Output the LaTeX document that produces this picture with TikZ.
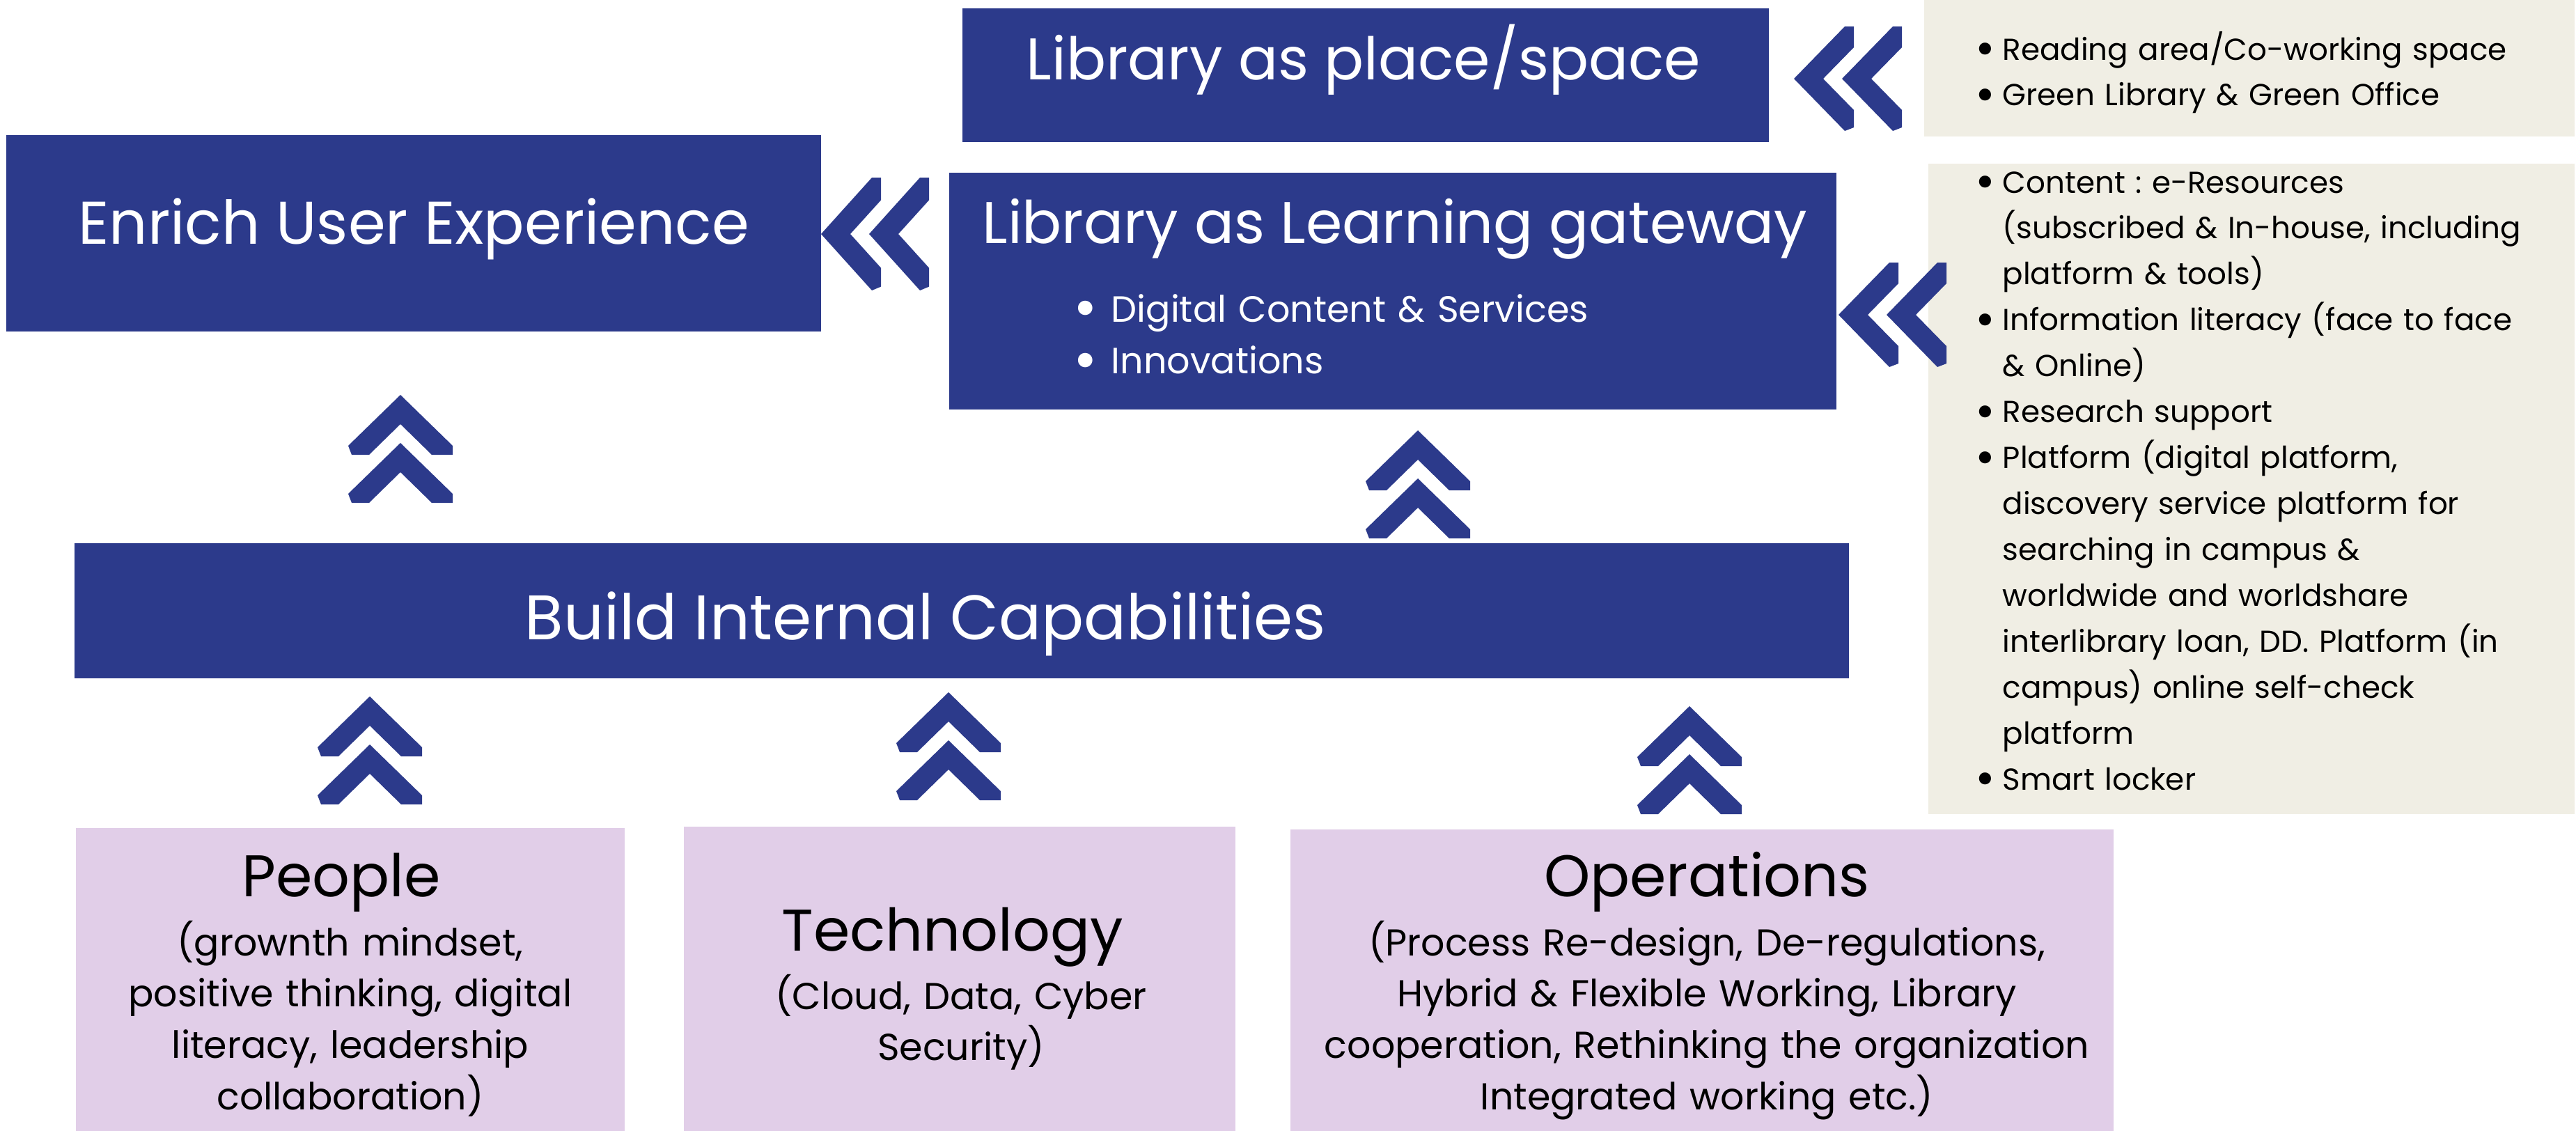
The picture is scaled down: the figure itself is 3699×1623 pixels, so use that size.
\documentclass[tikz,border=0pt]{standalone}
\usepackage{fontspec}
\setmainfont{Poppins}

\definecolor{deepblue}{HTML}{2C3A8B}
\definecolor{cream}{HTML}{F0EEE4}
\definecolor{lilac}{HTML}{E1CEE8}

\hyphenpenalty=10000
\frenchspacing
\newcommand\bul[1][0.39cm]{\makebox[#1][l]{\raisebox{-0.17em}{\scalebox{1.6}{\textbullet}}}}
\newcommand\cont[1][0.39cm]{\hspace*{#1}}

\tikzset{
  bluebox/.style={fill=deepblue, inner sep=0pt, outer sep=0pt},
  creambox/.style={fill=cream, inner sep=0pt, outer sep=0pt},
  lilacbox/.style={fill=lilac, inner sep=0pt, outer sep=0pt},
  headtxt/.style={inner sep=0pt, anchor=base, text=white, font=\fontsize{24pt}{29pt}\selectfont},
  pillartxt/.style={inner sep=0pt, anchor=base, font=\fontsize{24pt}{29pt}\selectfont},
  pillarsub/.style={inner sep=0pt, anchor=base, text width=14cm, align=center,
    font=\fontsize{15.3pt}{20.95pt}\selectfont},
  listtxt/.style={inner sep=0pt, anchor=base west, text width=10cm, align=left,
    font=\fontsize{12.4pt}{18.75pt}\selectfont},
  twochev/.pic={
    \foreach \d in {0,69}{
      \fill[deepblue] (0,\d) -- (-75,\d+73) -- (-70,\d+86) -- (-45,\d+86) -- (0,\d+42)
        -- (45,\d+86) -- (75,\d+86) -- (75,\d+73) -- cycle;
    }
  }
}

\begin{document}
\begin{tikzpicture}[x=0.01cm, y=-0.01cm]
  \useasboundingbox (0,0) rectangle (3699,1623);

  % top row boxes
  \node[bluebox, minimum width=11.58cm, minimum height=1.92cm] (place) at (1961,108) {};
  \node[creambox, minimum width=9.33cm, minimum height=1.96cm] (placelist) at (3230,98) {};
  \node[bluebox, minimum width=11.70cm, minimum height=2.82cm] (enrich) at (594,335) {};
  \node[bluebox, minimum width=12.74cm, minimum height=3.39cm] (gateway) at (2000,418) {};
  \node[creambox, minimum width=9.27cm, minimum height=9.34cm] (gatewaylist) at (3233,702) {};

  % middle bar
  \node[bluebox, minimum width=25.47cm, minimum height=1.94cm] (build) at (1381,877) {};

  % pillars
  \node[lilacbox, minimum width=7.88cm, minimum height=4.36cm] (people) at (503,1407) {};
  \node[lilacbox, minimum width=7.91cm, minimum height=4.37cm] (tech) at (1378,1406) {};
  \node[lilacbox, minimum width=11.82cm, minimum height=4.33cm] (ops) at (2444,1408) {};

  % titles
  \node[headtxt] (placetxt) at (1958,114) {Library as place/space};
  \node[headtxt, font=\fontsize{24.6pt}{29pt}\selectfont] (enrichtxt) at (594,350) {Enrich User Experience};
  \node[headtxt] (gatewaytxt) at (2003,349) {Library as Learning gateway};
  \node[headtxt, font=\fontsize{25.7pt}{31pt}\selectfont] (buildtxt) at (1329,918) {Build Internal Capabilities};

  \node[listtxt, text=white, font=\fontsize{14.9pt}{21.3pt}\selectfont] (gatewayitems) at (1541,462)
    {\bul[0.54cm]Digital Content \& Services\\
     \bul[0.54cm]Innovations};

  % lists on the right
  \node[listtxt] (placeitems) at (2836,86)
    {\bul Reading area/Co-working space\\
     \bul Green Library \& Green Office};
  \node[listtxt] (gatewaylistitems) at (2836,277)
    {\bul Content : e-Resources\\
     \cont(subscribed \& In-house, including\\
     \cont platform \& tools)\\
     \bul Information literacy (face to face\\
     \cont\& Online)\\
     \bul Research support\\
     \bul Platform (digital platform,\\
     \cont discovery service platform for\\
     \cont searching in campus \&\\
     \cont worldwide and worldshare\\
     \cont interlibrary loan, DD. Platform (in\\
     \cont campus) online self-check\\
     \cont platform\\
     \bul Smart locker};

  % pillar texts
  \node[pillartxt] (peopletxt) at (490,1287) {People};
  \node[pillarsub] (peoplesub) at (503,1372)
    {(grownth mindset,\\ positive thinking, digital\\ literacy, leadership\\ collaboration)};
  \node[pillartxt] (techtxt) at (1368,1365) {Technology};
  \node[pillarsub] (techsub) at (1380,1449) {(Cloud, Data, Cyber\\ Security)};
  \node[pillartxt] (opstxt) at (2451,1287) {Operations};
  \node[pillarsub] (opssub) at (2451,1372)
    {(Process Re-design, De-regulations,\\ Hybrid \& Flexible Working, Library\\
     cooperation, Rethinking the organization\\ Integrated working etc.)};

  % chevrons
  \pic[rotate=90] at (2576,113) {twochev};
  \pic[rotate=90, xscale=1.08] at (1179,336) {twochev};
  \pic[rotate=90] at (2640,452) {twochev};
  \pic at (575,567) {twochev};
  \pic at (2036,618) {twochev};
  \pic at (531,1000) {twochev};
  \pic at (1362,994) {twochev};
  \pic at (2426,1014) {twochev};
\end{tikzpicture}
\end{document}
